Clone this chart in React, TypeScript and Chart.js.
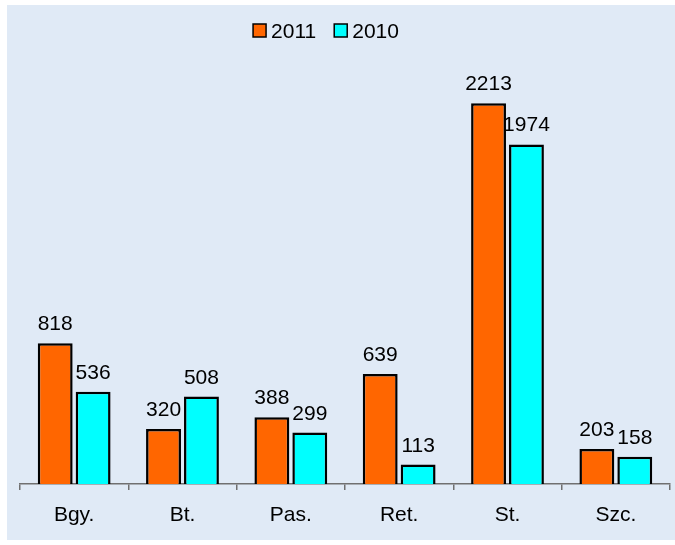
import React, { useEffect, useRef } from "react";
import { Chart, registerables } from "chart.js";

Chart.register(...registerables);

const categories = ["Bgy.", "Bt.", "Pas.", "Ret.", "St.", "Szc."];
const series2011 = [818, 320, 388, 639, 2213, 203];
const series2010 = [536, 508, 299, 113, 1974, 158];
const seriesNames = ["2011", "2010"];
const seriesColors = ["#FF6600", "#00FFFF"];

const FONT = "'Liberation Sans', Arial, sans-serif";
const FONT_SIZE = 21;

const backgroundPlugin = {
  id: "bgPlugin",
  beforeDraw(chart: any) {
    const ctx = chart.ctx;
    ctx.save();
    ctx.fillStyle = "#ffffff";
    ctx.fillRect(0, 0, chart.width, chart.height);
    ctx.fillStyle = "#e0eaf6";
    ctx.fillRect(7, 5, chart.width - 7, chart.height - 10);
    ctx.restore();
  },
};

const legendPlugin = {
  id: "customLegend",
  afterDraw(chart: any) {
    const ctx = chart.ctx;
    ctx.save();
    ctx.font = `${FONT_SIZE}px ${FONT}`;
    const box = 13;
    const gap = 5;
    const itemGap = 18;
    const items = chart.data.datasets.map((d: any) => ({
      label: d.label,
      color: d.backgroundColor,
      w: ctx.measureText(d.label).width,
    }));
    const total =
      items.reduce((s: number, it: any) => s + box + gap + it.w, 0) +
      itemGap * (items.length - 1);
    let x = 326 - total / 2;
    const boxTop = 24;
    const baseline = 37.5;
    items.forEach((it: any) => {
      ctx.fillStyle = it.color;
      ctx.fillRect(x, boxTop, box, box);
      ctx.strokeStyle = "#000";
      ctx.lineWidth = 1.5;
      ctx.strokeRect(x, boxTop, box, box);
      ctx.fillStyle = "#000";
      ctx.textAlign = "left";
      ctx.textBaseline = "alphabetic";
      ctx.fillText(it.label, x + box + gap, baseline);
      x += box + gap + it.w + itemGap;
    });
    ctx.restore();
  },
};

const valueLabelPlugin = {
  id: "valueLabels",
  afterDatasetsDraw(chart: any) {
    const ctx = chart.ctx;
    ctx.save();
    ctx.font = `${FONT_SIZE}px ${FONT}`;
    ctx.fillStyle = "#000";
    ctx.textAlign = "center";
    ctx.textBaseline = "alphabetic";
    chart.data.datasets.forEach((ds: any, i: number) => {
      const meta = chart.getDatasetMeta(i);
      meta.data.forEach((el: any, j: number) => {
        ctx.fillText(String(ds.data[j]), el.x, el.y - 13);
      });
    });
    ctx.restore();
  },
};

export default function App() {
  const canvasRef = useRef<HTMLCanvasElement | null>(null);

  useEffect(() => {
    if (!canvasRef.current) return;
    const chart = new Chart(canvasRef.current, {
      type: "bar",
      data: {
        labels: categories,
        datasets: [
          {
            label: seriesNames[0],
            data: series2011,
            backgroundColor: seriesColors[0],
            borderColor: "#000000",
            borderWidth: 2.5,
            categoryPercentage: 0.7,
            barPercentage: 0.92,
          },
          {
            label: seriesNames[1],
            data: series2010,
            backgroundColor: seriesColors[1],
            borderColor: "#000000",
            borderWidth: 2.5,
            categoryPercentage: 0.7,
            barPercentage: 0.92,
          },
        ],
      },
      options: {
        animation: false,
        responsive: false,
        maintainAspectRatio: false,
        layout: { padding: { left: 20, right: 5, top: 54, bottom: 16 } },
        plugins: {
          legend: { display: false },
          tooltip: { enabled: false },
        },
        scales: {
          x: {
            afterFit(scale: any) {
              scale.height = 45;
            },
            border: { display: true, color: "#707070", width: 1.5 },
            grid: {
              display: true,
              offset: true,
              drawOnChartArea: false,
              drawTicks: true,
              tickLength: 6,
              color: "#707070",
              lineWidth: 1.5,
            },
            ticks: {
              color: "#000",
              font: { family: FONT, size: FONT_SIZE },
              padding: 13,
            },
          },
          y: {
            display: false,
            min: 0,
            max: 2500,
          },
        },
      },
      plugins: [backgroundPlugin, legendPlugin, valueLabelPlugin],
    });
    return () => chart.destroy();
  }, []);

  return (
    <div style={{ position: "fixed", left: 0, top: 0, width: 675, height: 545 }}>
      <canvas ref={canvasRef} width={675} height={545} style={{ display: "block" }} />
    </div>
  );
}
